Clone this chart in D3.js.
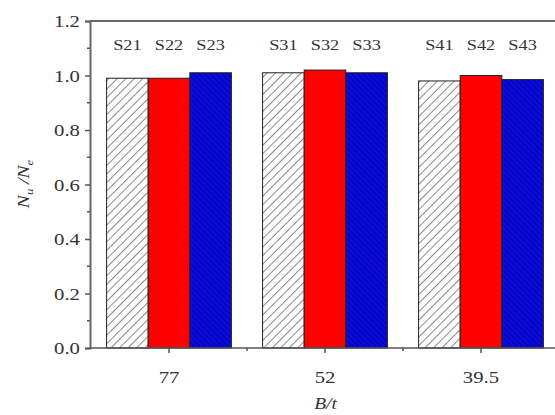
<!DOCTYPE html>
<html>
<head>
<meta charset="utf-8">
<script src="https://cdn.jsdelivr.net/npm/d3@7"></script>
<style>
  html, body { margin: 0; padding: 0; background: #fff; }
  svg { display: block; }
  text { font-family: "Liberation Serif", "Times New Roman", Times, serif; fill: #333; }
</style>
</head>
<body>
<svg id="chart" width="555" height="415"></svg>
<script>
// Slenderness groups (B/t) and specimen labels
const groups = ["77", "52", "39.5"];
const seriesKeys = ["hatch", "red", "blue"];
const specimens = [
  ["S21", "S22", "S23"],
  ["S31", "S32", "S33"],
  ["S41", "S42", "S43"]
];
// Nu/Ne ratio for each specimen, per group
const ratios = [
  [0.99, 0.99, 1.01],
  [1.01, 1.02, 1.01],
  [0.98, 1.00, 0.985]
];
const yTicks = [0.0, 0.2, 0.4, 0.6, 0.8, 1.0, 1.2];

const svg = d3.select("#chart");
const margin = { left: 90, top: 21, bottom: 348, right: 559 };
const SX = 1.22; // horizontal stretch of the serif labels

const x = d3.scaleBand().domain(groups).range([margin.left + 1, margin.right])
  .paddingInner(0.2).paddingOuter(0.1);
const xInner = d3.scaleBand().domain(seriesKeys).range([0, x.bandwidth()]).padding(0);
const y = d3.scaleLinear().domain([0, 1.2]).range([margin.bottom, margin.top]);

// Fill patterns
const defs = svg.append("defs");
const pHatch = defs.append("pattern").attr("id", "hatch").attr("patternUnits", "userSpaceOnUse")
  .attr("width", 6).attr("height", 6).attr("patternTransform", "rotate(45)");
pHatch.append("rect").attr("width", 6).attr("height", 6).attr("fill", "#fff");
pHatch.append("line").attr("x1", 0).attr("y1", 0).attr("x2", 0).attr("y2", 6)
  .attr("stroke", "#3a3a3a").attr("stroke-width", 1.2);

const pBlue = defs.append("pattern").attr("id", "bluehatch").attr("patternUnits", "userSpaceOnUse")
  .attr("width", 4).attr("height", 4).attr("patternTransform", "rotate(-45)");
pBlue.append("rect").attr("width", 4).attr("height", 4).attr("fill", "#0a0adc");
pBlue.append("line").attr("x1", 0).attr("y1", 0).attr("x2", 0).attr("y2", 4)
  .attr("stroke", "#000088").attr("stroke-width", 1.3);

const fills = { hatch: "url(#hatch)", red: "#ff0000", blue: "url(#bluehatch)" };

function label(parent, px, py, str, size, anchor) {
  return parent.append("text")
    .attr("transform", `translate(${px},${py}) scale(${SX},1)`)
    .attr("text-anchor", anchor || "middle")
    .attr("font-size", size)
    .text(str);
}

// Bars
groups.forEach((g, gi) => {
  const gx = x(g);
  seriesKeys.forEach((k, ki) => {
    const v = ratios[gi][ki];
    svg.append("rect")
      .attr("x", gx + xInner(k))
      .attr("y", y(v))
      .attr("width", xInner.bandwidth())
      .attr("height", y(0) - y(v))
      .attr("fill", fills[k])
      .attr("stroke", "#222")
      .attr("stroke-width", 1);
    label(svg, gx + xInner(k) + xInner.bandwidth() / 2, 50, specimens[gi][ki], 15);
  });
});

// Frame: top border line
svg.append("line")
  .attr("x1", margin.left).attr("x2", 555)
  .attr("y1", margin.top).attr("y2", margin.top)
  .attr("stroke", "#666").attr("stroke-width", 2);

// Y axis
const yAxis = d3.axisLeft(y).tickValues(yTicks).tickFormat(() => "").tickSize(5);
const gy = svg.append("g").attr("transform", `translate(${margin.left},0)`).call(yAxis);
gy.select(".domain").attr("stroke", "#666").attr("stroke-width", 2);
gy.selectAll(".tick line").attr("stroke", "#555").attr("stroke-width", 1.5);
const fmt = d3.format(".1f");
yTicks.forEach(t => label(svg, 80, y(t) + 6, fmt(t), 17, "end"));
// minor y ticks
const yMinor = d3.range(0.1, 1.2, 0.2);
svg.append("g").selectAll("line").data(yMinor).join("line")
  .attr("x1", margin.left - 3).attr("x2", margin.left)
  .attr("y1", d => y(d)).attr("y2", d => y(d))
  .attr("stroke", "#555").attr("stroke-width", 1.5);

// X axis
const xAxis = d3.axisBottom(x).tickSize(5).tickFormat(() => "");
const gxa = svg.append("g").attr("transform", `translate(0,${margin.bottom})`).call(xAxis);
gxa.select(".domain").remove();
gxa.selectAll(".tick line").attr("stroke", "#555").attr("stroke-width", 1.5);
groups.forEach(g => label(svg, x(g) + x.bandwidth() / 2, 383, g, 17));
svg.append("line")
  .attr("x1", margin.left).attr("x2", 555)
  .attr("y1", margin.bottom).attr("y2", margin.bottom)
  .attr("stroke", "#555").attr("stroke-width", 1.5);
// minor x ticks at group boundaries
const bounds = groups.slice(1).map(g => x(g) - x.step() * x.paddingInner() / 2);
svg.append("g").selectAll("line").data(bounds).join("line")
  .attr("x1", d => d).attr("x2", d => d)
  .attr("y1", margin.bottom).attr("y2", margin.bottom + 3)
  .attr("stroke", "#555").attr("stroke-width", 1.5);

// Axis titles
const xt = svg.append("text")
  .attr("transform", `translate(${(margin.left + margin.right) / 2 + 1},409) scale(${SX},1)`)
  .attr("text-anchor", "middle").attr("font-size", 16).attr("font-style", "italic");
xt.text("B/t");

const yt = svg.append("text")
  .attr("transform", "translate(29,184) rotate(-90) scale(1.15,1)")
  .attr("text-anchor", "middle").attr("font-size", 17).attr("font-style", "italic");
yt.append("tspan").text("N");
yt.append("tspan").attr("font-size", 11).attr("dy", 4).text("u");
yt.append("tspan").attr("dy", -4).text(" /N");
yt.append("tspan").attr("font-size", 11).attr("dy", 4).text("e");
</script>
</body>
</html>
